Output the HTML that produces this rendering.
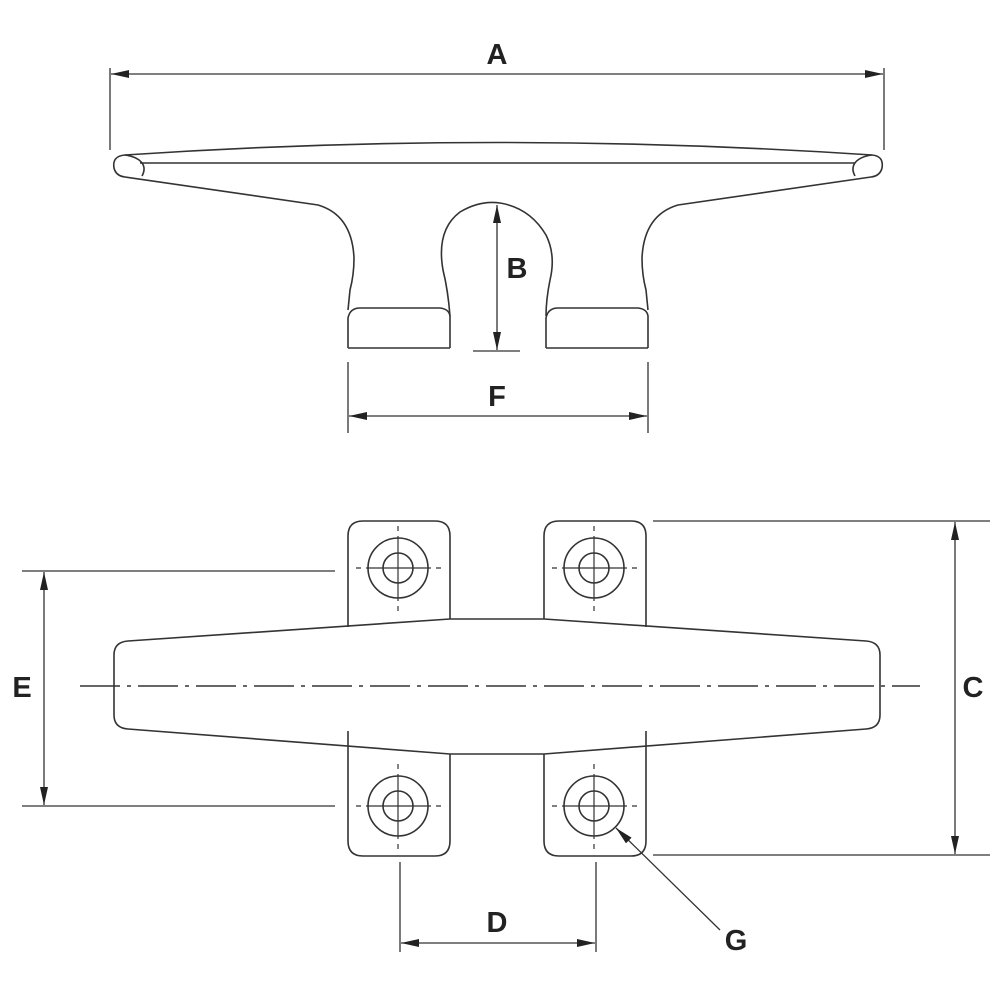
<!DOCTYPE html>
<html><head><style>body{margin:0;background:#fff}svg{display:block}text{font-family:"Liberation Sans",sans-serif;font-weight:bold;font-size:29px;fill:#222}</style></head>
<body>
<svg width="1000" height="1000" viewBox="0 0 1000 1000" xmlns="http://www.w3.org/2000/svg">
<defs><marker id="ar" viewBox="0 0 18 8" refX="18" refY="4" markerWidth="18" markerHeight="8" markerUnits="userSpaceOnUse" orient="auto-start-reverse"><path d="M0,0 L18,4 L0,8z" fill="#222"/></marker></defs>
<g fill="none" stroke="#333" stroke-width="1.6">
<!-- top view -->
<path d="M125,155 Q497,130 872,155"/>
<line x1="140" y1="163" x2="855" y2="163"/>
<path d="M125,155 C140,157 148,165 142,176 M872,155 C857,157 849,165 855,176"/>
<path d="M125,155 Q112,156 114,168 Q116,176 125,177 L318,205 Q352,215 354,258 Q354,275 350,290 L348,310"/>
<path d="M872,155 Q884,156 882,168 Q880,176 871,177 L678,205 Q644,215 642,258 Q642,275 646,290 L648,310"/>
<path d="M348,348 L348,318 Q350,308 360,308 L440,308 Q449,309 450,316 L450,348 M348,348 L450,348"/>
<path d="M546,348 L546,318 Q548,308 558,308 L638,308 Q647,309 648,316 L648,348 M546,348 L648,348"/>
<path d="M450,316 Q448,290 443,270 Q436,230 460,212 Q480,200 500,203 Q530,208 546,235 Q556,255 550,280 Q546,300 546,316"/>
<!-- plan view body -->
<path d="M450,619 L544,619 L866,641 Q880,642 880,655 L880,715 Q880,728 866,729 L544,754 L450,754 L128,729 Q114,728 114,715 L114,655 Q114,642 128,641 Z"/>
<path d="M348,627 L348,536 Q348,521 363,521 L435,521 Q450,521 450,536 L450,619"/>
<path d="M544,619 L544,536 Q544,521 559,521 L631,521 Q646,521 646,536 L646,627"/>
<path d="M348,731 L348,841 Q348,856 363,856 L435,856 Q450,856 450,841 L450,754"/>
<path d="M544,754 L544,841 Q544,856 559,856 L631,856 Q646,856 646,841 L646,731"/>
<g>
<circle cx="398" cy="568" r="30"/><circle cx="398" cy="568" r="15"/>
<circle cx="594" cy="568" r="30"/><circle cx="594" cy="568" r="15"/>
<circle cx="398" cy="806" r="30"/><circle cx="398" cy="806" r="15"/>
<circle cx="594" cy="806" r="30"/><circle cx="594" cy="806" r="15"/>
</g>
<g stroke-width="1.2" stroke-dasharray="5,5,65,5,5,100">
<line x1="356" y1="568" x2="441" y2="568"/><line x1="398" y1="526" x2="398" y2="611"/>
<line x1="552" y1="568" x2="637" y2="568"/><line x1="594" y1="526" x2="594" y2="611"/>
<line x1="356" y1="806" x2="441" y2="806"/><line x1="398" y1="764" x2="398" y2="849"/>
<line x1="552" y1="806" x2="637" y2="806"/><line x1="594" y1="764" x2="594" y2="849"/>
</g>
<line x1="80" y1="686" x2="920" y2="686" stroke-width="1.4" stroke-dasharray="40,7,4,7"/>
<!-- dims -->
<g stroke-width="1.3">
<line x1="110" y1="68" x2="110" y2="150"/><line x1="884" y1="68" x2="884" y2="150"/>
<line x1="111" y1="74" x2="883" y2="74" marker-start="url(#ar)" marker-end="url(#ar)"/>
<line x1="497" y1="205" x2="497" y2="350" marker-start="url(#ar)" marker-end="url(#ar)"/>
<line x1="473" y1="351" x2="520" y2="351"/>
<line x1="348" y1="362" x2="348" y2="433"/><line x1="648" y1="362" x2="648" y2="433"/>
<line x1="349" y1="416" x2="647" y2="416" marker-start="url(#ar)" marker-end="url(#ar)"/>
<line x1="653" y1="521" x2="990" y2="521"/><line x1="653" y1="855" x2="990" y2="855"/>
<line x1="955" y1="522" x2="955" y2="854" marker-start="url(#ar)" marker-end="url(#ar)"/>
<line x1="22" y1="571" x2="335" y2="571"/><line x1="22" y1="806" x2="335" y2="806"/>
<line x1="44" y1="572" x2="44" y2="805" marker-start="url(#ar)" marker-end="url(#ar)"/>
<line x1="400" y1="862" x2="400" y2="952"/><line x1="596" y1="862" x2="596" y2="952"/>
<line x1="401" y1="943" x2="595" y2="943" marker-start="url(#ar)" marker-end="url(#ar)"/>
<line x1="720" y1="930" x2="616" y2="828" marker-end="url(#ar)"/>
</g>
</g>
<text x="497" y="64" text-anchor="middle">A</text>
<text x="517" y="278" text-anchor="middle">B</text>
<text x="497" y="406" text-anchor="middle">F</text>
<text x="973" y="697" text-anchor="middle">C</text>
<text x="22" y="697" text-anchor="middle">E</text>
<text x="497" y="932" text-anchor="middle">D</text>
<text x="736" y="950" text-anchor="middle">G</text>
</svg>
</body></html>
